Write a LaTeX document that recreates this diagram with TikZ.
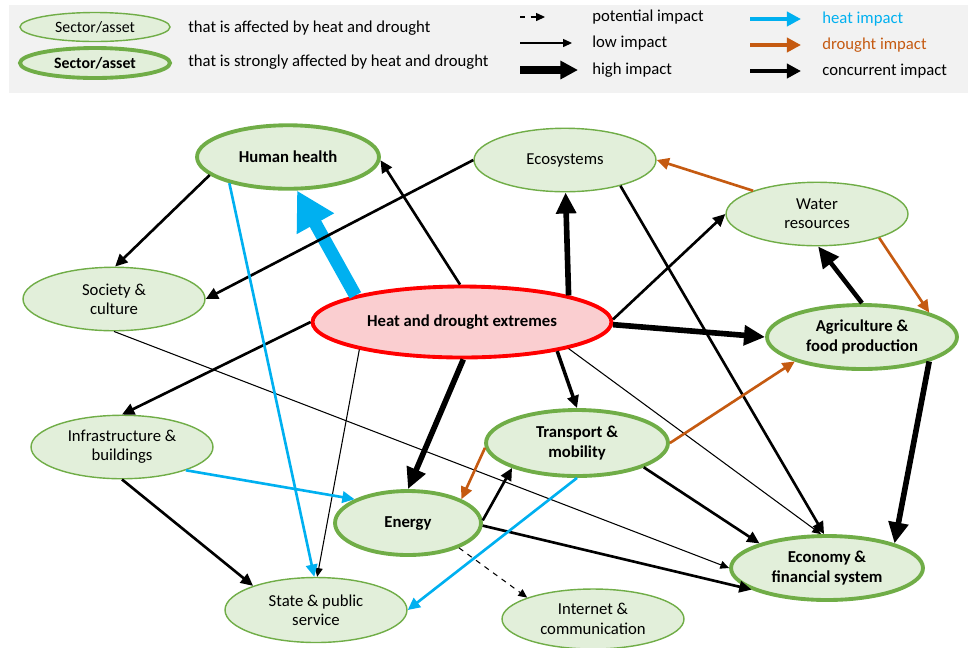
\documentclass[tikz,border=0pt]{standalone}
\usepackage{fontspec}
\setmainfont{Carlito}
\usetikzlibrary{arrows.meta,shapes.geometric}
\definecolor{leafc}{RGB}{112,173,71}
\definecolor{sectfill}{RGB}{226,239,218}
\definecolor{hotc}{RGB}{255,0,0}
\definecolor{hotfill}{RGB}{250,206,208}
\definecolor{heatc}{RGB}{0,176,240}
\definecolor{dryc}{RGB}{197,90,17}
\definecolor{legbg}{RGB}{242,242,242}

\begin{document}
\begin{tikzpicture}[x=0.02cm, y=-0.02cm, every node/.style={font=\fontsize{9.5}{11}\selectfont},
  sect/.style={ellipse, draw=leafc, fill=sectfill, line width=0.8pt, minimum width=3.64cm, minimum height=1.27cm, inner sep=0pt, align=center},
  strong/.style={sect, line width=2.2pt, font=\fontsize{9.5}{11}\selectfont\bfseries},
  lbl/.style={anchor=west, inner sep=0pt},
  lo/.style={line width=0.6pt, -{Triangle[length=5pt,width=4.5pt]}},
  mid/.style={line width=1.5pt, -{Triangle[length=7pt,width=6.5pt]}},
  hi/.style={line width=3.2pt, -{Triangle[length=12pt,width=11pt]}}]
  \useasboundingbox (0,0) rectangle (969,647);
  % legend
  \fill[legbg] (9,5) rectangle (968,93);
  \node[sect, minimum width=3cm, minimum height=0.58cm, font=\fontsize{9}{10}\selectfont] (k0) at (95,27) {Sector/asset};
  \node[strong, minimum width=3cm, minimum height=0.6cm, font=\fontsize{9}{10}\selectfont\bfseries] (k1) at (95,63) {Sector/asset};
  \node[lbl] (t0) at (188,28) {that is affected by heat and drought};
  \node[lbl] (t1) at (188,62) {that is strongly affected by heat and drought};
  \foreach \i/\y/\t in {0/17/potential impact, 1/43/low impact, 2/70/high impact} {
    \node[lbl] (w\i) at (592,\y) {\t};
    \coordinate (wa\i) at (520,\y);
  }
  \coordinate (wb0) at (545,17); \coordinate (wb1) at (572,43); \coordinate (wb2) at (578,70);
  \draw[lo, dashed] (wa0) -- (wb0);
  \draw[lo] (wa1) -- (wb1);
  \draw[hi, line width=4pt, -{Triangle[length=10pt,width=10pt]}] (wa2) -- (wb2);
  \foreach \i/\y/\c/\t in {0/19/heatc/heat impact, 1/45/dryc/drought impact, 2/71/black/concurrent impact} {
    \node[lbl, text=\c] (v\i) at (822,\y) {\t};
    \coordinate (va\i) at (750,\y); \coordinate (vb\i) at (801,\y);
    \draw[\c, line width=2pt, -{Triangle[length=8pt,width=8pt]}] (va\i) -- (vb\i);
  }
  % sectors
  \node[strong] (hh) at (288,157) {Human health};
  \node[sect] (eco) at (565,160) {Ecosystems};
  \node[sect] (wat) at (817,214) {Water\\resources};
  \node[sect] (soc) at (114,299) {Society \&\\culture};
  \node[strong, draw=hotc, fill=hotfill, minimum width=5.98cm, minimum height=1.42cm] (hd) at (462,322) {Heat and drought extremes};
  \node[strong, minimum width=3.8cm, minimum height=1.28cm] (agr) at (862,337) {Agriculture \&\\food production};
  \node[sect] (inf) at (122,447) {Infrastructure \&\\buildings};
  \node[strong, minimum height=1.32cm] (trn) at (577,443) {Transport \&\\mobility};
  \node[strong, minimum width=2.92cm, minimum height=1.28cm] (ene) at (408,523) {Energy};
  \node[strong, minimum width=3.84cm, minimum height=1.28cm] (fin) at (827,568) {Economy \&\\financial system};
  \node[sect, minimum height=1.3cm] (sta) at (316,610) {State \& public\\service};
  \node[sect, minimum height=1.2cm] (net) at (593,619) {Internet \&\\communication};
  % impacts
  \draw[heatc, line width=7.4pt, -{Triangle[length=0.76cm,width=0.8cm]}] (hd.166) -- (hh.-75);
  \foreach \a/\b in {hh.193/soc.88, hd.93/hh.-2, eco.180/soc.0, hd.180/inf.90, hd.1/wat.180, eco.-25/fin.95,
    trn.-20/fin.160, ene.2/trn.201, ene.-2/fin.196, inf.-90/sta.159}
    \draw[mid] (\a) -- (\b);
  \draw[mid, line width=2pt] (hd.-17) -- (trn.90);
  \foreach \a/\b in {hd.-88/ene.90, hd.14/eco.-89, hd.-1/agr.180, agr.-20/fin.20}
    \draw[hi] (\a) -- (\b);
  \draw[hi, line width=2.6pt] (agr.90) -- (wat.-88);
  \foreach \a/\b in {soc.-90/fin.180, hd.195/sta.88, hd.-14/fin.100}
    \draw[lo] (\a) -- (\b);
  \foreach \a/\b in {hh.-156/sta.93, inf.-20/ene.156, trn.-90/sta.0}
    \draw[mid, heatc] (\a) -- (\b);
  \foreach \a/\b in {wat.160/eco.0, wat.-21/agr.20, trn.183/ene.24, trn.0/agr.200}
    \draw[mid, dryc] (\a) -- (\b);
  \draw[lo, dashed] (ene.-26) -- (net.162);
\end{tikzpicture}
\end{document}
